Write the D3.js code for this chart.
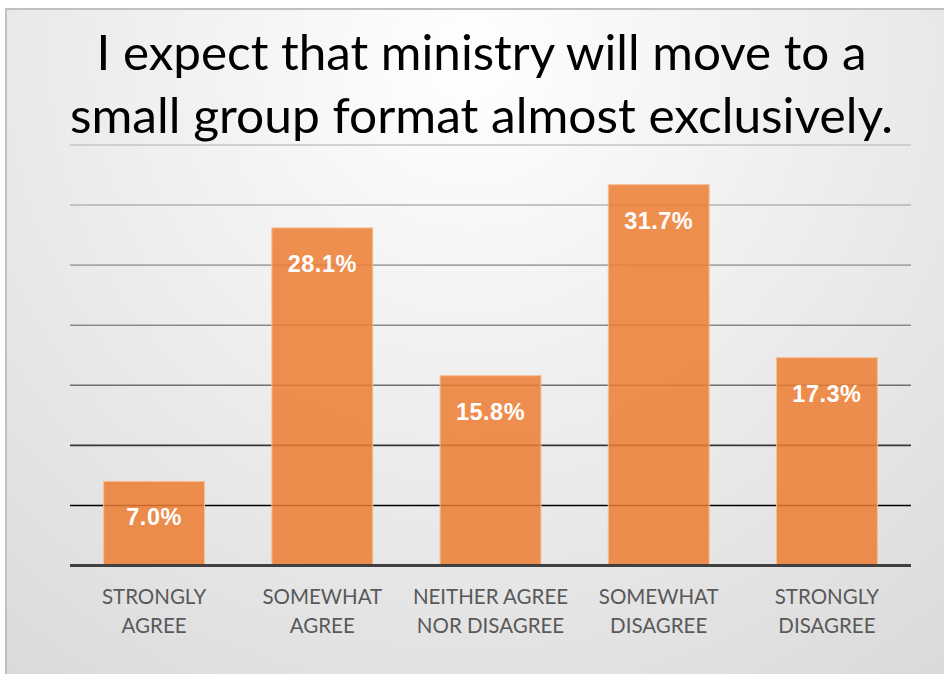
<!DOCTYPE html>
<html>
<head>
<meta charset="utf-8">
<script src="https://cdn.jsdelivr.net/npm/d3@7"></script>
<style>
  html, body { margin: 0; padding: 0; background: #ffffff; }
  svg { display: block; }
</style>
</head>
<body>
<svg id="chart" width="944" height="674"></svg>
<script>
// Survey responses
const titleLines = ["I expect that ministry will move to a", "small group format almost exclusively."];
const categories = [
  ["STRONGLY", "AGREE"],
  ["SOMEWHAT", "AGREE"],
  ["NEITHER AGREE", "NOR DISAGREE"],
  ["SOMEWHAT", "DISAGREE"],
  ["STRONGLY", "DISAGREE"]
];
const values = [7.0, 28.1, 15.8, 31.7, 17.3];
const gridTicks = [5, 10, 15, 20, 25, 30, 35];

const W = 944, H = 674;
const plot = { left: 70, right: 911, top: 145, bottom: 565.5 };

const svg = d3.select("#chart");
const defs = svg.append("defs");

// Soft radial backdrop
const bg = defs.append("radialGradient")
  .attr("id", "bgGrad")
  .attr("gradientUnits", "userSpaceOnUse")
  .attr("cx", 470).attr("cy", 60).attr("r", 820);
bg.append("stop").attr("offset", "0%").attr("stop-color", "#ffffff");
bg.append("stop").attr("offset", "100%").attr("stop-color", "#d8d8d8");

svg.append("rect").attr("width", W).attr("height", H).attr("fill", "#ffffff");
svg.append("rect")
  .attr("x", 6).attr("y", 9)
  .attr("width", W).attr("height", H)
  .attr("fill", "url(#bgGrad)")
  .attr("stroke", "#c0c0c0")
  .attr("stroke-width", 2);

const x = d3.scaleBand()
  .domain(d3.range(categories.length))
  .range([plot.left, plot.right])
  .paddingInner(0.4)
  .paddingOuter(0.2);

const y = d3.scaleLinear()
  .domain([0, 35])
  .range([plot.bottom, plot.top]);

// Gridlines fade from light at the top to black near the base
const gridColor = d3.scaleLinear()
  .domain([35, 25, 15, 5])
  .range(["#c4c4c4", "#a6a6a6", "#6e6e6e", "#000000"]);

svg.append("g")
  .selectAll("line")
  .data(gridTicks)
  .join("line")
  .attr("x1", plot.left).attr("x2", plot.right)
  .attr("y1", d => y(d)).attr("y2", d => y(d))
  .attr("stroke", d => gridColor(d))
  .attr("stroke-width", 1.6);

// Bars
svg.append("g")
  .selectAll("rect")
  .data(values)
  .join("rect")
  .attr("x", (d, i) => x(i))
  .attr("width", x.bandwidth())
  .attr("y", d => y(d))
  .attr("height", d => y(0) - y(d))
  .attr("fill", "#ED7D31")
  .attr("fill-opacity", 0.85)
  .attr("stroke", "#f6c09a")
  .attr("stroke-width", 1);

// Value labels inside bar tops
svg.append("g")
  .selectAll("text")
  .data(values)
  .join("text")
  .attr("x", (d, i) => x(i) + x.bandwidth() / 2)
  .attr("y", d => y(d) + 44)
  .attr("text-anchor", "middle")
  .attr("font-family", "'Liberation Sans', Arial, sans-serif")
  .attr("font-weight", "bold")
  .attr("font-size", 23.5)
  .attr("letter-spacing", 0.5)
  .attr("fill", "#ffffff")
  .text(d => d.toFixed(1) + "%");

// Baseline
svg.append("line")
  .attr("x1", plot.left).attr("x2", plot.right)
  .attr("y1", y(0)).attr("y2", y(0))
  .attr("stroke", "#404040")
  .attr("stroke-width", 3);

// Category labels
const catG = svg.append("g");
categories.forEach((lines, i) => {
  const t = catG.append("text")
    .attr("text-anchor", "middle")
    .attr("font-family", "Lato, 'Open Sans', sans-serif")
    .attr("font-size", 20.5)
    .attr("fill", "#595959");
  lines.forEach((ln, k) => {
    t.append("tspan")
      .attr("x", x(i) + x.bandwidth() / 2)
      .attr("y", 604 + k * 29)
      .text(ln);
  });
});

// Title, stretched to its set line widths
const titleWidths = [770, 823];
const titleG = svg.append("g");
titleLines.forEach((ln, k) => {
  titleG.append("text")
    .attr("x", 481.5)
    .attr("y", 70 + k * 63)
    .attr("text-anchor", "middle")
    .attr("font-family", "Lato, 'Open Sans', sans-serif")
    .attr("font-size", 48)
    .attr("textLength", titleWidths[k])
    .attr("lengthAdjust", "spacingAndGlyphs")
    .attr("fill", "#000000")
    .text(ln);
});
</script>
</body>
</html>
